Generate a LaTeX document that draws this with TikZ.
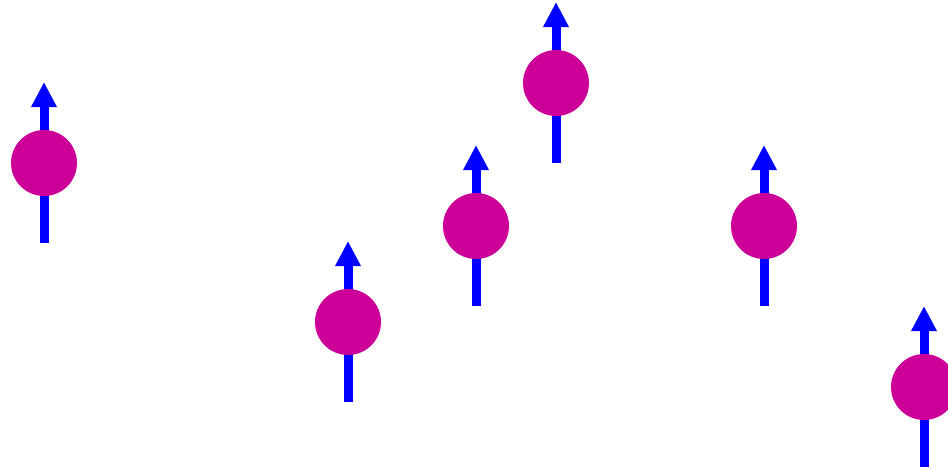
\documentclass[tikz,border=0pt]{standalone}
\usepackage{xcolor}
\usepackage{tikz}
\usetikzlibrary{arrows.meta}
\definecolor{spinmag}{HTML}{CC0099}
\definecolor{spinblue}{HTML}{0000FF}
\tikzset{
  spin/.style={circle, fill=spinmag, draw=none, minimum size=66pt, inner sep=0pt},
  moment/.style={-{Triangle[width=24pt,length=25pt]}, line width=9pt, draw=spinblue},
}
\begin{document}
\begin{tikzpicture}[x=1pt, y=-1pt]
  \useasboundingbox (0,0) rectangle (948,469);
  % spins: centre x / centre y
  \foreach \sx/\sy [count=\i] in {44/163, 348/322, 476/226, 556/83, 764/226, 924/387}{
    \coordinate (b\i) at (\sx,\sy+80);
    \coordinate (t\i) at (\sx,\sy-81);
    \draw[moment] (b\i) -- (t\i);
    \node[spin] (s\i) at (\sx,\sy) {};
  }
\end{tikzpicture}
\end{document}
